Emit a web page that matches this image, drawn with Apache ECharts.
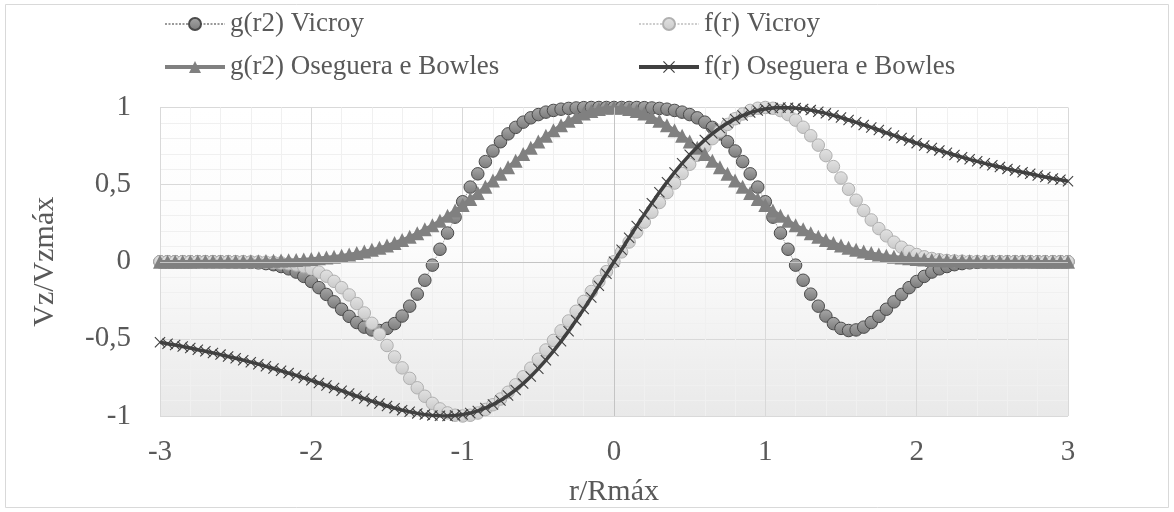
<!DOCTYPE html>
<html>
<head>
<meta charset="utf-8">
<script src="https://cdn.jsdelivr.net/npm/echarts@6/dist/echarts.min.js"></script>
<style>html,body{margin:0;padding:0;background:#fff}#c{width:1174px;height:512px}</style>
</head>
<body>
<div id="c"></div>
<script>
const r = [-3,-2.95,-2.9,-2.85,-2.8,-2.75,-2.7,-2.65,-2.6,-2.55,
-2.5,-2.45,-2.4,-2.35,-2.3,-2.25,-2.2,-2.15,-2.1,-2.05,
-2,-1.95,-1.9,-1.85,-1.8,-1.75,-1.7,-1.65,-1.6,-1.55,
-1.5,-1.45,-1.4,-1.35,-1.3,-1.25,-1.2,-1.15,-1.1,-1.05,
-1,-0.95,-0.9,-0.85,-0.8,-0.75,-0.7,-0.65,-0.6,-0.55,
-0.5,-0.45,-0.4,-0.35,-0.3,-0.25,-0.2,-0.15,-0.1,-0.05,
0,
0.05,0.1,0.15,0.2,0.25,0.3,0.35,0.4,0.45,0.5,
0.55,0.6,0.65,0.7,0.75,0.8,0.85,0.9,0.95,1,
1.05,1.1,1.15,1.2,1.25,1.3,1.35,1.4,1.45,1.5,
1.55,1.6,1.65,1.7,1.75,1.8,1.85,1.9,1.95,2,
2.05,2.1,2.15,2.2,2.25,2.3,2.35,2.4,2.45,2.5,
2.55,2.6,2.65,2.7,2.75,2.8,2.85,2.9,2.95,3];

const gVicroy = [0,0,0,0,0,0,0,0,0,-0.001,
-0.001,-0.002,-0.004,-0.007,-0.012,-0.019,-0.031,-0.046,-0.067,-0.095,
-0.128,-0.168,-0.212,-0.260,-0.308,-0.354,-0.394,-0.424,-0.442,-0.446,
-0.432,-0.401,-0.352,-0.288,-0.210,-0.120,-0.022,0.081,0.186,0.289,
0.389,0.484,0.570,0.649,0.718,0.778,0.829,0.871,0.905,0.933,
0.954,0.970,0.981,0.989,0.994,0.997,0.999,1.000,1.000,1.000,
1,
1.000,1.000,1.000,0.999,0.997,0.994,0.989,0.981,0.970,0.954,
0.933,0.905,0.871,0.829,0.778,0.718,0.649,0.570,0.484,0.389,
0.289,0.186,0.081,-0.022,-0.120,-0.210,-0.288,-0.352,-0.401,-0.432,
-0.446,-0.442,-0.424,-0.394,-0.354,-0.308,-0.260,-0.212,-0.168,-0.128,
-0.095,-0.067,-0.046,-0.031,-0.019,-0.012,-0.007,-0.004,-0.002,-0.001,
-0.001,0,0,0,0,0,0,0,0,0];

const fVicroy = [0,0,0,0,0,0,0,0,0,0,
0,0,-0.001,-0.001,-0.003,-0.005,-0.008,-0.013,-0.021,-0.032,
-0.047,-0.067,-0.094,-0.127,-0.168,-0.215,-0.271,-0.332,-0.399,-0.470,
-0.543,-0.617,-0.688,-0.756,-0.817,-0.872,-0.918,-0.954,-0.980,-0.995,
-1.000,-0.995,-0.981,-0.958,-0.927,-0.890,-0.846,-0.798,-0.746,-0.690,
-0.632,-0.572,-0.510,-0.448,-0.384,-0.321,-0.257,-0.193,-0.128,-0.064,
0,
0.064,0.128,0.193,0.257,0.321,0.384,0.448,0.510,0.572,0.632,
0.690,0.746,0.798,0.846,0.890,0.927,0.958,0.981,0.995,1.000,
0.995,0.980,0.954,0.918,0.872,0.817,0.756,0.688,0.617,0.543,
0.470,0.399,0.332,0.271,0.215,0.168,0.127,0.094,0.067,0.047,
0.032,0.021,0.013,0.008,0.005,0.003,0.001,0.001,0,0,
0,0,0,0,0,0,0,0,0,0];

const gOseguera = [0,0,0,0,0,0.001,0.001,0.001,0.001,0.002,
0.002,0.002,0.003,0.004,0.005,0.006,0.008,0.010,0.012,0.015,
0.018,0.022,0.027,0.033,0.039,0.047,0.056,0.066,0.077,0.090,
0.105,0.122,0.141,0.162,0.185,0.210,0.237,0.266,0.298,0.332,
0.368,0.406,0.445,0.486,0.527,0.570,0.613,0.655,0.698,0.739,
0.779,0.817,0.852,0.885,0.914,0.939,0.961,0.978,0.990,0.998,
1.000,
0.998,0.990,0.978,0.961,0.939,0.914,0.885,0.852,0.817,0.779,
0.739,0.698,0.655,0.613,0.570,0.527,0.486,0.445,0.406,0.368,
0.332,0.298,0.266,0.237,0.210,0.185,0.162,0.141,0.122,0.105,
0.090,0.077,0.066,0.056,0.047,0.039,0.033,0.027,0.022,0.018,
0.015,0.012,0.010,0.008,0.006,0.005,0.004,0.003,0.002,0.002,
0.002,0.001,0.001,0.001,0.001,0,0,0,0,0];

const fOseguera = [-0.522,-0.531,-0.540,-0.550,-0.559,-0.570,-0.580,-0.591,-0.602,-0.614,
-0.626,-0.638,-0.651,-0.664,-0.678,-0.692,-0.707,-0.722,-0.737,-0.753,
-0.769,-0.786,-0.802,-0.819,-0.836,-0.854,-0.871,-0.887,-0.904,-0.919,
-0.935,-0.949,-0.962,-0.973,-0.983,-0.991,-0.996,-0.999,-1.000,-0.997,
-0.991,-0.981,-0.967,-0.948,-0.926,-0.899,-0.867,-0.831,-0.790,-0.744,
-0.693,-0.638,-0.579,-0.516,-0.450,-0.380,-0.307,-0.232,-0.156,-0.078,
0,
0.078,0.156,0.232,0.307,0.380,0.450,0.516,0.579,0.638,0.693,
0.744,0.790,0.831,0.867,0.899,0.926,0.948,0.967,0.981,0.991,
0.997,1.000,0.999,0.996,0.991,0.983,0.973,0.962,0.949,0.935,
0.919,0.904,0.887,0.871,0.854,0.836,0.819,0.802,0.786,0.769,
0.753,0.737,0.722,0.707,0.692,0.678,0.664,0.651,0.638,0.626,
0.614,0.602,0.591,0.580,0.570,0.559,0.550,0.540,0.531,0.522];

const seriesNames = ['g(r2) Vicroy','f(r) Vicroy','g(r2) Oseguera e Bowles','f(r) Oseguera e Bowles'];
const xTitle = 'r/Rmáx';
const yTitle = 'Vz/Vzmáx';

const pairs = v => r.map((x, i) => [x, v[i]]);
const FONT = 'Liberation Serif';
const TXT = '#595959';
const crossPath = 'path://M0,0.7L0.7,0L5,4.3L9.3,0L10,0.7L5.7,5L10,9.3L9.3,10L5,5.7L0.7,10L0,9.3L4.3,5Z';

const legendText = {fontFamily: FONT, fontSize: 27, color: TXT, lineHeight: 30};
const chart = echarts.init(document.getElementById('c'), null, {renderer: 'canvas'});
chart.setOption({
  animation: false,
  backgroundColor: '#ffffff',
  graphic: [{
    type: 'rect', silent: true, z: -10,
    shape: {x: 5.5, y: 4.5, width: 1163, height: 503},
    style: {fill: 'none', stroke: '#d9d9d9', lineWidth: 1}
  }],
  grid: {
    left: 160, right: 106, top: 107.5, bottom: 96,
    show: true, borderWidth: 0,
    backgroundColor: {
      type: 'linear', x: 0, y: 0, x2: 0, y2: 1,
      colorStops: [{offset: 0, color: '#ffffff'}, {offset: 0.45, color: '#fcfcfc'}, {offset: 1, color: '#e9e9e9'}]
    }
  },
  legend: [{
    data: [
      {name: seriesNames[0], lineStyle: {width: 1.5, type: [2, 1.5], color: '#7a7a7a'}},
      {name: seriesNames[2], lineStyle: {width: 4, color: '#808080'}}
    ],
    orient: 'vertical', left: 163, top: 9, padding: 0,
    itemWidth: 60, itemHeight: 15, itemGap: 13,
    textStyle: legendText
  }, {
    data: [
      {name: seriesNames[1], lineStyle: {width: 1.5, type: [2, 1.5], color: '#bdbdbd'}},
      {name: seriesNames[3], lineStyle: {width: 4, color: '#404040'}}
    ],
    orient: 'vertical', left: 637, top: 9, padding: 0,
    itemWidth: 60, itemHeight: 15, itemGap: 13,
    textStyle: legendText
  }],
  xAxis: {
    type: 'value', min: -3, max: 3, interval: 1,
    name: xTitle, nameLocation: 'middle', nameGap: 61,
    nameTextStyle: {fontFamily: FONT, fontSize: 30, color: TXT},
    axisLine: {show: false}, axisTick: {show: false},
    axisLabel: {fontFamily: FONT, fontSize: 29, color: TXT, margin: 22},
    splitLine: {show: true, lineStyle: {color: '#d9d9d9', width: 1}},
    minorTick: {show: false, splitNumber: 5},
    minorSplitLine: {show: true, lineStyle: {color: '#f0f0f0', width: 1}}
  },
  yAxis: {
    type: 'value', min: -1, max: 1, interval: 0.5,
    name: yTitle, nameLocation: 'middle', nameGap: 100, nameRotate: 90,
    nameTextStyle: {fontFamily: FONT, fontSize: 30, color: TXT},
    axisLine: {show: false}, axisTick: {show: false},
    axisLabel: {fontFamily: FONT, fontSize: 29, color: TXT, margin: 29,
      formatter: v => String(v).replace('.', ',')},
    splitLine: {show: true, lineStyle: {color: '#d9d9d9', width: 1}},
    minorTick: {show: false, splitNumber: 5},
    minorSplitLine: {show: true, lineStyle: {color: '#f0f0f0', width: 1}}
  },
  series: [{
    name: 'axes', type: 'line', data: [], silent: true, z: 1,
    markLine: {
      silent: true, symbol: 'none', label: {show: false},
      lineStyle: {color: '#c4c4c4', width: 1, type: 'solid'},
      data: [{xAxis: 0}, {yAxis: 0}]
    }
  }, {
    name: seriesNames[0], type: 'line', data: pairs(gVicroy), z: 2,
    showAllSymbol: true, symbol: 'circle', symbolSize: 12.5,
    lineStyle: {color: '#8c8c8c', width: 1, type: 'dotted'},
    itemStyle: {
      color: {type: 'linear', x: 0, y: 0, x2: 0, y2: 1,
        colorStops: [{offset: 0, color: '#a8a8a8'}, {offset: 1, color: '#7a7a7a'}]},
      borderColor: '#4a4a4a', borderWidth: 1
    }
  }, {
    name: seriesNames[1], type: 'line', data: pairs(fVicroy), z: 3,
    showAllSymbol: true, symbol: 'circle', symbolSize: 12.5,
    lineStyle: {color: '#c8c8c8', width: 1, type: 'dotted'},
    itemStyle: {
      color: {type: 'linear', x: 0, y: 0, x2: 0, y2: 1,
        colorStops: [{offset: 0, color: '#e2e2e2'}, {offset: 1, color: '#cacaca'}]},
      borderColor: '#b0b0b0', borderWidth: 1
    }
  }, {
    name: seriesNames[2], type: 'line', data: pairs(gOseguera), z: 4,
    showAllSymbol: true, symbol: 'triangle', symbolSize: 14,
    lineStyle: {color: '#808080', width: 3.5},
    itemStyle: {color: '#808080'}
  }, {
    name: seriesNames[3], type: 'line', data: pairs(fOseguera), z: 5,
    showAllSymbol: true, symbol: crossPath, symbolSize: 11,
    lineStyle: {color: '#404040', width: 3.5},
    itemStyle: {color: '#404040'}
  }]
});
</script>
</body>
</html>
